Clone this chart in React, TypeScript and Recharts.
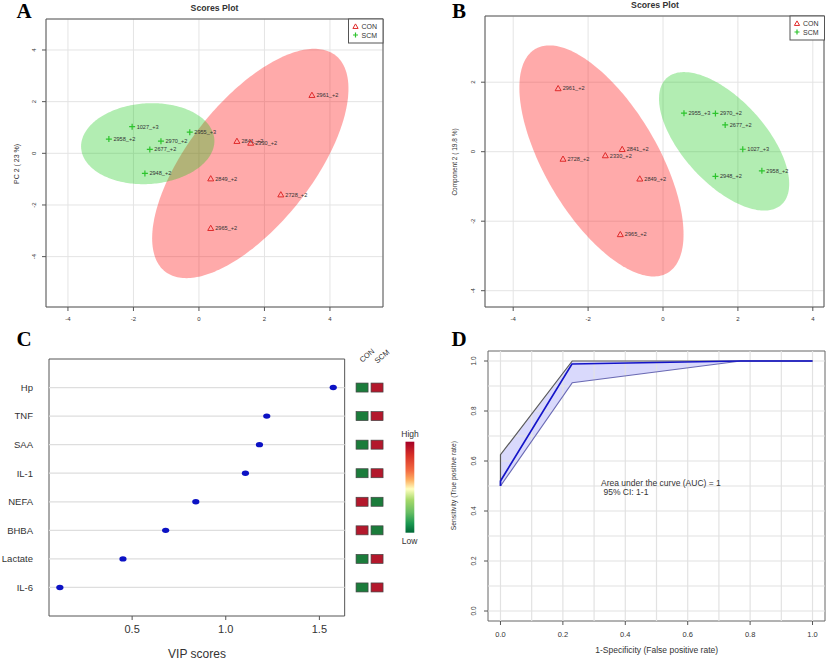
import React from 'react';
import {
  ComposedChart, Scatter, Area, Line, XAxis, YAxis, CartesianGrid, ReferenceArea, ReferenceLine,
} from 'recharts';

const FONT = '"Liberation Sans", Arial, sans-serif';
const SERIF = '"Liberation Serif", "Times New Roman", serif';
const RED = '#e02a2a';
const GREEN = '#2cc42c';
const TXT = '#333';

// ---- Panel A: PCA scores ----
const A_CON_NAMES = ['2961_+2', '2841_+2', '2330_+2', '2849_+2', '2728_+2', '2965_+2'];
const A_CON_X = [3.45, 1.16, 1.58, 0.36, 2.5, 0.36];
const A_CON_Y = [2.25, 0.47, 0.4, -0.98, -1.6, -2.9];
const A_SCM_NAMES = ['1027_+3', '2958_+2', '2970_+2', '2677_+2', '2955_+3', '2948_+2'];
const A_SCM_X = [-2.04, -2.75, -1.16, -1.5, -0.28, -1.65];
const A_SCM_Y = [1.03, 0.55, 0.47, 0.15, 0.82, -0.78];

// ---- Panel B: PLS-DA scores ----
const B_CON_NAMES = ['2961_+2', '2841_+2', '2330_+2', '2728_+2', '2849_+2', '2965_+2'];
const B_CON_X = [-2.8, -1.09, -1.54, -2.67, -0.62, -1.14];
const B_CON_Y = [1.82, 0.07, -0.11, -0.21, -0.78, -2.38];
const B_SCM_NAMES = ['2955_+3', '2970_+2', '2677_+2', '1027_+3', '2958_+2', '2948_+2'];
const B_SCM_X = [0.56, 1.4, 1.66, 2.13, 2.64, 1.4];
const B_SCM_Y = [1.11, 1.1, 0.77, 0.07, -0.55, -0.71];

const SCORE_TICKS = [-4, -2, 0, 2, 4];

// ---- Panel C: VIP scores ----
const VIP_NAMES = ['Hp', 'TNF', 'SAA', 'IL-1', 'NEFA', 'BHBA', 'Lactate', 'IL-6'];
const VIP_SCORES = [1.574, 1.219, 1.18, 1.105, 0.84, 0.679, 0.451, 0.114];
const VIP_CON_LEVEL = ['low', 'low', 'low', 'low', 'high', 'high', 'low', 'low'];
const VIP_SCM_LEVEL = ['high', 'high', 'high', 'high', 'low', 'low', 'high', 'high'];
const VIP_TICKS = [0.5, 1.0, 1.5];

// ---- Panel D: ROC ----
const ROC_FPR = [0, 0, 0.229, 0.77, 1];
const ROC_TPR = [0.5, 0.52, 0.988, 1, 1];
const CI_FPR = [0, 0.23, 0.77, 1];
const CI_LOWER = [0.5, 0.913, 1, 1];
const CI_UPPER = [0.625, 1, 1, 1];
const ROC_TICKS = [0, 0.2, 0.4, 0.6, 0.8, 1];
const ROC_GRID = [0, 0.1, 0.2, 0.3, 0.4, 0.5, 0.6, 0.7, 0.8, 0.9, 1];

type Pt = { name: string; x: number; y: number };
const toPts = (names: string[], xs: number[], ys: number[]): Pt[] =>
  names.map((name, i) => ({ name, x: xs[i], y: ys[i] }));

// 95% confidence ellipse of a group, as a lower/upper band over x
const CHI2_95 = 5.991;
function confidenceBand(pts: Pt[], steps = 120) {
  const n = pts.length;
  const mx = pts.reduce((s, p) => s + p.x, 0) / n;
  const my = pts.reduce((s, p) => s + p.y, 0) / n;
  let sxx = 0, syy = 0, sxy = 0;
  pts.forEach((p) => {
    sxx += (p.x - mx) ** 2;
    syy += (p.y - my) ** 2;
    sxy += (p.x - mx) * (p.y - my);
  });
  sxx /= n - 1; syy /= n - 1; sxy /= n - 1;
  const det = sxx * syy - sxy * sxy;
  const a = syy / det, b = -sxy / det, d = sxx / det;
  const ex = Math.sqrt(CHI2_95 * sxx);
  const out: { x: number; r: [number, number] }[] = [];
  for (let i = 0; i <= steps; i++) {
    const dx = -ex * Math.cos((Math.PI * i) / steps);
    const root = Math.sqrt(Math.max(0, b * b * dx * dx - d * (a * dx * dx - CHI2_95)));
    out.push({ x: mx + dx, r: [my + (-b * dx - root) / d, my + (-b * dx + root) / d] });
  }
  return out;
}

const center = (p: any) => ({
  cx: p.cx ?? p.x + (p.width || 0) / 2,
  cy: p.cy ?? p.y + (p.height || 0) / 2,
});

const triPath = (cx: number, cy: number, s = 3) =>
  `M${cx},${cy - s}L${cx + s},${cy + s * 0.75}L${cx - s},${cy + s * 0.75}Z`;

const ConShape = (p: any) => {
  const { cx, cy } = center(p);
  return (
    <g>
      <path d={triPath(cx, cy)} fill="none" stroke={RED} strokeWidth={1} />
      <text x={cx + 4.5} y={cy + 2} fontSize={5.6} fill={TXT} fontFamily={FONT}>{p.payload?.name}</text>
    </g>
  );
};

const ScmShape = (p: any) => {
  const { cx, cy } = center(p);
  return (
    <g>
      <path d={`M${cx - 3},${cy}H${cx + 3}M${cx},${cy - 3}V${cy + 3}`} stroke={GREEN} strokeWidth={1.2} />
      <text x={cx + 4.5} y={cy + 2} fontSize={5.6} fill={TXT} fontFamily={FONT}>{p.payload?.name}</text>
    </g>
  );
};

const RotTick = (p: any) => {
  const { x, y, payload, size, digits } = p;
  const v = digits != null ? Number(payload.value).toFixed(digits) : String(payload.value);
  return (
    <text x={x} y={y} transform={`rotate(-90 ${x} ${y})`} textAnchor="middle" fontSize={size} fill={TXT} fontFamily={FONT}>
      {v}
    </text>
  );
};

type ScoresCfg = {
  con: Pt[]; scm: Pt[]; width: number; height: number;
  margin: { top: number; right: number; bottom: number; left: number };
  yAxisWidth: number; xDomain: [number, number]; yDomain: [number, number]; yTicks: number[];
};

function ScoresPanel({ cfg }: { cfg: ScoresCfg }) {
  const conBand = confidenceBand(cfg.con);
  const scmBand = confidenceBand(cfg.scm);
  return (
    <ComposedChart width={cfg.width} height={cfg.height} margin={cfg.margin}>
      <CartesianGrid stroke="#e4e4e4" strokeWidth={1} />
      <XAxis
        type="number" dataKey="x" domain={cfg.xDomain} allowDataOverflow ticks={SCORE_TICKS}
        axisLine={false} tickSize={4} tickMargin={6} height={23} tickLine={{ stroke: '#555' }}
        tick={{ fontSize: 6, fill: TXT, fontFamily: FONT }}
      />
      <YAxis
        type="number" dataKey="y" domain={cfg.yDomain} allowDataOverflow ticks={cfg.yTicks}
        axisLine={false} width={cfg.yAxisWidth} tickSize={4} tickMargin={6} tickLine={{ stroke: '#555' }}
        tick={(p: any) => <RotTick {...p} size={6} />}
      />
      <Area data={conBand} dataKey="r" type="linear" stroke="none" fill="#ff1414" fillOpacity={0.36} dot={false} activeDot={false} isAnimationActive={false} />
      <Area data={scmBand} dataKey="r" type="linear" stroke="none" fill="#10c810" fillOpacity={0.32} dot={false} activeDot={false} isAnimationActive={false} />
      <ReferenceArea x1={cfg.xDomain[0]} x2={cfg.xDomain[1]} y1={cfg.yDomain[0]} y2={cfg.yDomain[1]} fill="none" stroke="#555" strokeWidth={1} ifOverflow="visible" />
      <Scatter data={cfg.con} shape={ConShape} isAnimationActive={false} />
      <Scatter data={cfg.scm} shape={ScmShape} isAnimationActive={false} />
    </ComposedChart>
  );
}

const A_CFG: ScoresCfg = {
  con: toPts(A_CON_NAMES, A_CON_X, A_CON_Y),
  scm: toPts(A_SCM_NAMES, A_SCM_X, A_SCM_Y),
  width: 420, height: 330, margin: { top: 19, right: 37, bottom: 0, left: 0 },
  yAxisWidth: 46, xDomain: [-4.67, 5.62], yDomain: [-5.95, 5.2], yTicks: [-4, -2, 0, 2, 4],
};

const B_CFG: ScoresCfg = {
  con: toPts(B_CON_NAMES, B_CON_X, B_CON_Y),
  scm: toPts(B_SCM_NAMES, B_SCM_X, B_SCM_Y),
  width: 407, height: 330, margin: { top: 16, right: 3, bottom: 0, left: 0 },
  yAxisWidth: 65, xDomain: [-4.753, 4.299], yDomain: [-4.469, 3.905], yTicks: [-4, -2, 0, 2],
};

// ---- C ----
const C_X_MIN = 0.056;
const C_BOX_MAX = 1.635;
const HEAT_X = { CON: 1.728, SCM: 1.808 };
const LEVEL_COLOR: Record<string, string> = { low: '#1b7c3b', high: '#b3182c' };

const VipDot = (p: any) => {
  const { cx, cy } = center(p);
  return <ellipse cx={cx} cy={cy} rx={3.6} ry={2.7} fill="#0c12c4" />;
};

const HeatCell = (p: any) => {
  const { cx, cy } = center(p);
  return <rect x={cx - 6} y={cy - 4.5} width={12} height={9} fill={LEVEL_COLOR[p.payload.level]} stroke="#444" strokeWidth={0.7} />;
};

function VipPanel() {
  const rows = VIP_NAMES.length;
  const dots = VIP_NAMES.map((name, i) => ({ name, x: VIP_SCORES[i], y: rows - i }));
  const heatCon = VIP_NAMES.map((name, i) => ({ name, x: HEAT_X.CON, y: rows - i, level: VIP_CON_LEVEL[i] }));
  const heatScm = VIP_NAMES.map((name, i) => ({ name, x: HEAT_X.SCM, y: rows - i, level: VIP_SCM_LEVEL[i] }));
  return (
    <ComposedChart width={420} height={341} margin={{ top: 39, right: 7, bottom: 0, left: 0 }}>
      <XAxis
        type="number" dataKey="x" domain={[C_X_MIN, 2.0]} allowDataOverflow ticks={VIP_TICKS}
        tickFormatter={(v: number) => v.toFixed(1)} axisLine={false} tickSize={4} tickMargin={5} height={45}
        tickLine={{ stroke: '#555' }} tick={{ fontSize: 11, fill: TXT, fontFamily: FONT }}
      />
      <YAxis
        type="number" dataKey="y" domain={[0, rows + 1]} allowDataOverflow ticks={dots.map((d) => d.y)}
        tickFormatter={(v: number) => VIP_NAMES[rows - v]} axisLine={false} tickLine={false} tickSize={0}
        tickMargin={16} width={49} tick={{ fontSize: 9.5, fill: TXT, fontFamily: FONT }}
      />
      {dots.map((d) => (
        <ReferenceLine key={d.name} segment={[{ x: C_X_MIN, y: d.y }, { x: C_BOX_MAX, y: d.y }]} stroke="#dedede" strokeWidth={1.3} ifOverflow="visible" />
      ))}
      <ReferenceArea x1={C_X_MIN} x2={C_BOX_MAX} y1={0} y2={rows + 1} fill="none" stroke="#555" strokeWidth={1} ifOverflow="visible" />
      <Scatter data={dots} shape={VipDot} isAnimationActive={false} />
      <Scatter data={heatCon} shape={HeatCell} isAnimationActive={false} />
      <Scatter data={heatScm} shape={HeatCell} isAnimationActive={false} />
    </ComposedChart>
  );
}

// ---- D ----
function RocPanel() {
  const curve = ROC_FPR.map((x, i) => ({ x, y: ROC_TPR[i] }));
  const band = CI_FPR.map((x, i) => ({ x, r: [CI_LOWER[i], CI_UPPER[i]] }));
  const upper = [{ x: CI_FPR[0], y: CI_LOWER[0] }, ...CI_FPR.map((x, i) => ({ x, y: CI_UPPER[i] }))];
  const lower = CI_FPR.map((x, i) => ({ x, y: CI_LOWER[i] }));
  return (
    <ComposedChart width={407} height={341} margin={{ top: 31, right: 2, bottom: 0, left: 0 }}>
      <XAxis
        type="number" dataKey="x" domain={[-0.04, 1.04]} allowDataOverflow ticks={ROC_TICKS}
        tickFormatter={(v: number) => v.toFixed(1)} axisLine={false} tickSize={4} tickMargin={7} height={40}
        tickLine={{ stroke: '#555' }} tick={{ fontSize: 7.5, fill: TXT, fontFamily: FONT }}
      />
      <YAxis
        type="number" dataKey="y" domain={[-0.04, 1.04]} allowDataOverflow ticks={ROC_TICKS}
        axisLine={false} width={68} tickSize={4} tickMargin={8} tickLine={{ stroke: '#555' }}
        tick={(p: any) => <RotTick {...p} size={6.5} digits={1} />}
      />
      {ROC_GRID.map((v) => (
        <ReferenceLine key={`gx${v}`} x={v} stroke="#e2e2e2" strokeWidth={1.2} />
      ))}
      {ROC_GRID.map((v) => (
        <ReferenceLine key={`gy${v}`} y={v} stroke="#e2e2e2" strokeWidth={1.2} />
      ))}
      <ReferenceArea x1={-0.04} x2={1.04} y1={-0.04} y2={1.04} fill="none" stroke="#666" strokeWidth={1} ifOverflow="visible" />
      <Area data={band} dataKey="r" type="linear" stroke="none" fill="#2020ee" fillOpacity={0.17} dot={false} activeDot={false} isAnimationActive={false} />
      <Line data={upper} dataKey="y" type="linear" stroke="#5a5a5a" strokeWidth={1.2} dot={false} isAnimationActive={false} />
      <Line data={lower} dataKey="y" type="linear" stroke="#6a6ab4" strokeWidth={1.2} dot={false} isAnimationActive={false} />
      <Line data={curve} dataKey="y" type="linear" stroke="#1414c8" strokeWidth={1.7} dot={false} isAnimationActive={false} />
    </ComposedChart>
  );
}

function LegendBox({ x, y }: { x: number; y: number }) {
  return (
    <g fontFamily={FONT} fontSize={7} fill={TXT}>
      <rect x={x} y={y} width={34.5} height={24} fill="#fff" stroke="#555" strokeWidth={1} />
      <path d={triPath(x + 7, y + 7.5, 2.6)} fill="none" stroke={RED} strokeWidth={1} />
      <text x={x + 13} y={y + 10}>CON</text>
      <path d={`M${x + 4.5},${y + 16}H${x + 9.5}M${x + 7},${y + 13.5}V${y + 18.5}`} stroke={GREEN} strokeWidth={1.2} />
      <text x={x + 13} y={y + 18.5}>SCM</text>
    </g>
  );
}

export default function App() {
  return (
    <div style={{ position: 'absolute', left: 0, top: 0, width: 827, height: 661, background: '#fff', overflow: 'hidden', fontFamily: FONT }}>
      <div style={{ position: 'absolute', left: 0, top: 0 }}><ScoresPanel cfg={A_CFG} /></div>
      <div style={{ position: 'absolute', left: 420, top: 0 }}><ScoresPanel cfg={B_CFG} /></div>
      <div style={{ position: 'absolute', left: 0, top: 320 }}><VipPanel /></div>
      <div style={{ position: 'absolute', left: 420, top: 320 }}><RocPanel /></div>
      <svg width={827} height={661} style={{ position: 'absolute', left: 0, top: 0, pointerEvents: 'none' }}>
        <defs>
          <linearGradient id="rdylgn" x1="0" y1="0" x2="0" y2="1">
            <stop offset="0" stopColor="#a50026" />
            <stop offset="0.15" stopColor="#d73027" />
            <stop offset="0.32" stopColor="#f46d43" />
            <stop offset="0.42" stopColor="#fdae61" />
            <stop offset="0.52" stopColor="#ffffbf" />
            <stop offset="0.64" stopColor="#a6d96a" />
            <stop offset="0.78" stopColor="#66bd63" />
            <stop offset="0.9" stopColor="#1a9850" />
            <stop offset="1" stopColor="#006837" />
          </linearGradient>
        </defs>
        {/* panel letters */}
        <g fontFamily={SERIF} fontWeight="bold" fontSize={21} fill="#000">
          <text x={16.5} y={18}>A</text>
          <text x={452} y={18}>B</text>
          <text x={16.5} y={346}>C</text>
          <text x={451.5} y={346}>D</text>
        </g>
        {/* titles */}
        <g fontFamily={FONT} fontWeight="bold" fontSize={8.7} fill={TXT} textAnchor="middle">
          <text x={214.5} y={10.5}>Scores Plot</text>
          <text x={655} y={7.5}>Scores Plot</text>
        </g>
        <LegendBox x={348.5} y={19} />
        <LegendBox x={790} y={16} />
        {/* axis titles */}
        <g fontFamily={FONT} fill={TXT} textAnchor="middle">
          <text x={18.5} y={164} fontSize={7} transform="rotate(-90 18.5 164)">PC 2 ( 23 %)</text>
          <text x={456.5} y={162} fontSize={6.5} transform="rotate(-90 456.5 162)">Component 2 ( 19.8 %)</text>
          <text x={456} y={485.7} fontSize={6.8} transform="rotate(-90 456 485.7)">Sensitivity (True positive rate)</text>
          <text x={656.7} y={653} fontSize={8.5}>1-Specificity (False positive rate)</text>
          <text x={197} y={658} fontSize={12}>VIP scores</text>
        </g>
        {/* VIP heat map header and colour key */}
        <g fontFamily={FONT} fill={TXT} fontSize={7.5} textAnchor="middle" dominantBaseline="central">
          <text x={367} y={355.5} transform="rotate(-40 367 355.5)">CON</text>
          <text x={382} y={356.5} transform="rotate(-40 382 356.5)">SCM</text>
          <text x={410} y={434} fontSize={8.5}>High</text>
          <text x={409.5} y={541} fontSize={8.5}>Low</text>
        </g>
        <rect x={405.5} y={441.7} width={8.8} height={91} fill="url(#rdylgn)" />
        {/* AUC annotation */}
        <g fontFamily={FONT} fill={TXT} fontSize={8.5}>
          <text x={601} y={486}>Area under the curve (AUC) = 1</text>
          <text x={603.5} y={494.5}>95% CI: 1-1</text>
        </g>
      </svg>
    </div>
  );
}
